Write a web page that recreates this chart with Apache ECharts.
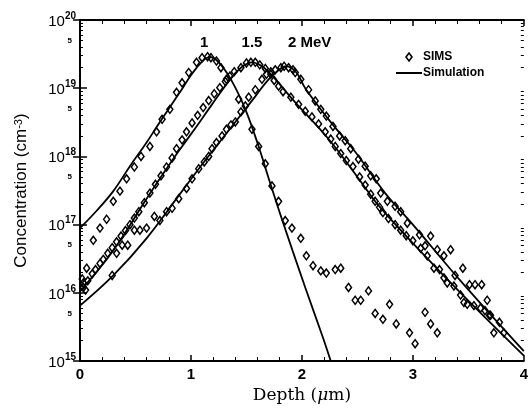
<!DOCTYPE html>
<html>
<head>
<meta charset="utf-8">
<script src="https://cdn.jsdelivr.net/npm/echarts@6/dist/echarts.min.js"></script>
<style>
  html, body { margin: 0; padding: 0; background: #fff; }
  #main { width: 531px; height: 409px; }
</style>
</head>
<body>
<div id="main"></div>
<script>
// depth (um) , concentration (cm^-3)
var sim1MeV = [[0, 8.9e16], [0.15, 1.6e17], [0.30, 3.1e17], [0.45, 7.2e17], [0.60, 1.6e18], [0.72, 3.2e18],
  [0.90, 8.7e18], [1.00, 1.55e19], [1.10, 2.45e19], [1.17, 2.85e19], [1.25, 2.4e19], [1.36, 1.35e19],
  [1.49, 4.9e18], [1.61, 1.4e18], [1.70, 4.8e17], [1.82, 1.2e17], [2.03, 1.2e16], [2.19, 2.2e15], [2.26, 1.0e15]];
var sim15MeV = [[0, 1.05e16], [0.30, 4.2e16], [0.60, 2.4e17], [0.78, 6.6e17], [0.89, 1.2e18], [1.05, 2.75e18],
  [1.19, 5.8e18], [1.34, 1.26e19], [1.45, 2.0e19], [1.55, 2.4e19], [1.62, 2.2e19], [1.70, 1.74e19],
  [1.94, 6.2e18], [2.24, 1.8e18], [2.53, 4.3e17], [2.68, 2.0e17], [3.10, 3.6e16], [3.43, 1.0e16], [4.0, 1.2e15]];
var sim2MeV = [[0, 6.5e15], [0.30, 1.8e16], [0.60, 6.3e16], [0.90, 2.8e17], [1.10, 7.6e17], [1.40, 3.2e18],
  [1.58, 7.6e18], [1.70, 1.35e19], [1.80, 1.9e19], [1.86, 2.1e19], [1.95, 1.7e19], [2.03, 1.0e19],
  [2.24, 3.5e18], [2.48, 1.17e18], [2.75, 2.9e17], [3.0, 1.0e17], [3.43, 1.5e16], [4.0, 1.4e15]];

var sims1MeV = [[0.03, 1.4e16], [0.06, 2.3e16], [0.12, 5.9e16], [0.18, 8.9e16], [0.24, 1.2e17], [0.30, 2.2e17],
  [0.36, 3.1e17], [0.42, 4.7e17], [0.49, 7.0e17], [0.55, 1.0e18], [0.63, 1.4e18], [0.69, 2.3e18], [0.74, 3.5e18],
  [0.81, 4.9e18], [0.87, 8.7e18], [0.92, 1.2e19], [0.98, 1.7e19], [1.05, 2.4e19], [1.10, 2.8e19], [1.15, 2.9e19],
  [1.18, 2.8e19], [1.23, 2.5e19], [1.27, 2.0e19], [1.32, 1.35e19], [1.43, 6.9e18], [1.55, 2.5e18], [1.61, 1.4e18],
  [1.67, 7.8e17], [1.73, 3.7e17], [1.79, 2.2e17], [1.85, 1.15e17], [1.91, 8.9e16], [1.99, 6.3e16], [2.04, 3.5e16],
  [2.10, 2.5e16], [2.17, 2.1e16], [2.22, 1.95e16], [2.30, 2.2e16], [2.35, 2.3e16], [2.42, 1.2e16], [2.48, 7.8e15],
  [2.53, 7.8e15], [2.60, 1.07e16], [2.66, 5.0e15], [2.73, 4.1e15], [2.79, 6.8e15], [2.85, 3.5e15], [2.97, 2.6e15],
  [3.02, 1.8e15], [3.11, 5.2e15], [3.16, 3.5e15], [3.22, 2.6e15]];
var sims15MeV = [[0.03, 1.2e16], [0.07, 1.5e16], [0.11, 1.9e16], [0.14, 2.2e16], [0.18, 2.7e16], [0.21, 3.1e16],
  [0.25, 3.8e16], [0.29, 4.6e16], [0.33, 5.6e16], [0.37, 6.8e16], [0.41, 8.2e16], [0.45, 1.0e17], [0.49, 1.25e17],
  [0.53, 1.55e17], [0.58, 2.1e17], [0.63, 2.9e17], [0.68, 3.9e17], [0.73, 5.2e17], [0.78, 7.0e17], [0.83, 9.5e17],
  [0.87, 1.3e18], [0.92, 1.75e18], [0.96, 2.3e18], [1.01, 3.1e18], [1.06, 4.0e18], [1.11, 5.2e18], [1.16, 6.6e18],
  [1.21, 8.3e18], [1.26, 1.02e19], [1.31, 1.25e19], [1.35, 1.5e19], [1.39, 1.75e19], [1.45, 2.0e19], [1.50, 2.35e19],
  [1.54, 2.4e19], [1.58, 2.4e19], [1.62, 2.2e19], [1.67, 1.95e19], [1.72, 1.6e19], [1.75, 1.3e19], [1.79, 1.07e19],
  [1.83, 8.9e18], [1.90, 7.4e18], [1.97, 5.8e18], [2.03, 4.6e18], [2.09, 3.8e18], [2.15, 3.0e18], [2.21, 2.3e18],
  [2.26, 1.8e18], [2.30, 1.4e18], [2.35, 1.1e18], [2.40, 8.7e17], [2.46, 7.1e17], [2.52, 5.0e17], [2.57, 3.8e17],
  [2.62, 2.8e17], [2.66, 2.2e17], [2.70, 1.8e17], [2.73, 1.5e17], [2.78, 1.23e17], [2.84, 1.0e17], [2.89, 8.3e16],
  [2.94, 6.9e16], [3.00, 5.8e16], [3.07, 4.5e16], [3.13, 3.5e16], [3.19, 2.3e16], [3.24, 2.2e16], [3.28, 1.66e16],
  [3.31, 1.4e16], [3.37, 1.26e16], [3.43, 9.3e15], [3.46, 7.2e15], [3.49, 6.8e15], [3.55, 6.5e15], [3.61, 6.0e15],
  [3.65, 5.5e15], [3.70, 4.7e15]];
var sims2MeV = [[0.02, 1.6e16], [0.05, 1.1e16], [0.29, 1.8e16], [0.33, 3.8e16], [0.38, 5.0e16], [0.43, 5.0e16],
  [0.49, 8.3e16], [0.54, 8.3e16], [0.60, 8.9e16], [0.67, 1.32e17], [0.72, 1.15e17], [0.78, 1.55e17], [0.83, 1.74e17],
  [0.89, 2.4e17], [0.96, 3.4e17], [1.01, 4.7e17], [1.07, 6.6e17], [1.12, 8.3e17], [1.16, 1.0e18], [1.19, 1.3e18],
  [1.23, 1.6e18], [1.28, 2.0e18], [1.32, 2.5e18], [1.36, 2.9e18], [1.40, 3.2e18], [1.45, 4.5e18], [1.49, 5.5e18],
  [1.52, 7.4e18], [1.58, 9.5e18], [1.64, 1.35e19], [1.68, 1.6e19], [1.72, 1.74e19], [1.76, 1.86e19], [1.81, 2.0e19],
  [1.84, 2.1e19], [1.88, 2.0e19], [1.92, 1.86e19], [1.94, 1.7e19], [1.99, 1.35e19], [2.06, 9.5e18], [2.12, 6.5e18],
  [2.17, 4.9e18], [2.22, 3.9e18], [2.28, 2.75e18], [2.34, 2.0e18], [2.39, 1.7e18], [2.44, 1.3e18], [2.51, 9.1e17],
  [2.57, 7.2e17], [2.62, 5.2e17], [2.67, 4.7e17], [2.71, 2.9e17], [2.77, 2.2e17], [2.84, 1.86e17], [2.89, 1.55e17],
  [2.95, 1.05e17], [3.06, 7.1e16], [3.11, 4.9e16], [3.16, 6.8e16], [3.22, 4.3e16], [3.28, 3.5e16], [3.34, 4.3e16],
  [3.38, 1.8e16], [3.45, 2.3e16], [3.51, 1.32e16], [3.56, 1.32e16], [3.62, 1.32e16], [3.67, 7.8e15], [3.69, 4.7e15],
  [3.73, 2.6e15], [3.78, 3.7e15], [3.82, 2.6e15]];

// energy annotations above the peaks
var energyLabels = ['1', '1.5', '2 MeV'];
var energyLabelAt = [[1.12, 4.6e19], [1.55, 4.6e19], [2.07, 4.6e19]];

// tick values
var yMajorTicks = [1e15, 1e16, 1e17, 1e18, 1e19, 1e20];
var yLabelTicks = [1e15, 5e15, 1e16, 5e16, 1e17, 5e17, 1e18, 5e18, 1e19, 5e19, 1e20];
var yMinorTicks = [];
yMajorTicks.slice(0, 5).forEach(function (d) {
  [2, 3, 4, 5, 6, 7, 8, 9].forEach(function (m) { yMinorTicks.push(m * d); });
});

var chart = echarts.init(document.getElementById('main'));

var sans = 'Liberation Sans';
var serif = 'DejaVu Serif';

function yFormat(v) {
  var e = Math.round(Math.log10(v));
  if (Math.abs(v / Math.pow(10, e) - 1) < 1e-6) {
    return '{b|10}{s|' + e + '}';
  }
  return '{m|5}';
}

var yRich = {
  b: { fontSize: 15, fontFamily: sans, color: '#000', lineHeight: 18, verticalAlign: 'bottom' },
  s: { fontSize: 10, fontFamily: sans, color: '#000', lineHeight: 10, verticalAlign: 'top', fontWeight: 'bold' },
  m: { fontSize: 8, fontFamily: sans, color: '#000', fontWeight: 'bold', padding: [0, 4, 0, 0] }
};

function yAxisBase(pos, major) {
  return {
    type: 'log',
    logBase: 10,
    position: pos,
    min: 1e15,
    max: 1e20,
    axisLine: { show: major, lineStyle: { color: '#000', width: 2 } },
    axisTick: {
      inside: true,
      length: major ? 7 : 3,
      customValues: major ? yMajorTicks : yMinorTicks,
      lineStyle: { color: '#000', width: major ? 1.5 : 1 }
    },
    axisLabel: { show: false },
    splitLine: { show: false }
  };
}

var yLeft = yAxisBase('left', true);
yLeft.axisLabel = {
  show: true,
  customValues: yLabelTicks,
  formatter: yFormat,
  rich: yRich,
  margin: 4
};
yLeft.name = 'Concentration (cm{sup|-3})';
yLeft.nameLocation = 'middle';
yLeft.nameGap = 50;
yLeft.nameTextStyle = {
  fontSize: 17, fontFamily: sans, color: '#000',
  rich: { sup: { fontSize: 11, fontFamily: sans, color: '#000', verticalAlign: 'top', lineHeight: 10 } }
};

function xAxisBase(pos, labels) {
  return {
    type: 'value',
    position: pos,
    min: 0,
    max: 4,
    interval: 1,
    axisLine: { show: true, onZero: false, lineStyle: { color: '#000', width: 2 } },
    axisTick: { inside: true, length: 6, lineStyle: { color: '#000', width: 1.5 } },
    minorTick: { show: true, splitNumber: 5, length: 4, lineStyle: { color: '#000', width: 1 } },
    axisLabel: { show: labels, fontSize: 15, fontFamily: sans, fontWeight: 'bold', color: '#000', margin: 6 },
    splitLine: { show: false }
  };
}

var xBottom = xAxisBase('bottom', true);
xBottom.name = 'Depth ({i|μ}m)';
xBottom.nameLocation = 'middle';
xBottom.nameGap = 24;
xBottom.nameTextStyle = {
  fontSize: 17, fontFamily: serif, color: '#000',
  rich: { i: { fontSize: 17, fontFamily: serif, fontStyle: 'italic', color: '#000' } }
};

var lineStyle = { color: '#000', width: 1.8 };
function simSeries(data) {
  return {
    name: 'Simulation', type: 'line', data: data, smooth: 0.4,
    showSymbol: false, symbol: 'none', lineStyle: lineStyle, itemStyle: { color: '#000' },
    xAxisIndex: 0, yAxisIndex: 0, z: 2
  };
}
function simsSeries(data) {
  return {
    name: 'SIMS', type: 'scatter', data: data, symbol: 'diamond', symbolSize: [6, 8],
    itemStyle: { color: 'rgba(255,255,255,0)', borderColor: '#000', borderWidth: 1.5, opacity: 1 },
    xAxisIndex: 0, yAxisIndex: 0, z: 3
  };
}

chart.setOption({
  animation: false,
  backgroundColor: '#fff',
  grid: { left: 80, right: 4, top: 20, bottom: 45, containLabel: false },
  legend: {
    data: [
      {
        name: 'SIMS',
        icon: 'path://M3,0 L6,4 L3,8 L0,4 Z',
        itemStyle: { color: 'rgba(255,255,255,0)', borderColor: '#000', borderWidth: 1.6, opacity: 1 }
      },
      {
        name: 'Simulation',
        icon: 'path://M0,0 L26,0 L26,2 L0,2 Z',
        itemStyle: { color: '#000', borderWidth: 0, opacity: 1 }
      }
    ],
    orient: 'vertical',
    left: 391,
    top: 46,
    itemGap: 4,
    itemWidth: 26,
    itemHeight: 8,
    selectedMode: false,
    textStyle: { fontSize: 12, fontWeight: 'bold', fontFamily: sans, color: '#000', padding: [0, 0, 0, -4] }
  },
  xAxis: [xBottom, xAxisBase('top', false)],
  yAxis: [yLeft, yAxisBase('right', true), yAxisBase('left', false), yAxisBase('right', false)],
  series: [
    simSeries(sim1MeV),
    simSeries(sim15MeV),
    simSeries(sim2MeV),
    simsSeries(sims1MeV),
    simsSeries(sims15MeV),
    simsSeries(sims2MeV),
    {
      name: 'energy', type: 'scatter', symbolSize: 1,
      itemStyle: { color: 'rgba(0,0,0,0)', opacity: 1 },
      data: energyLabelAt.map(function (p, i) { return { value: p, label: { formatter: energyLabels[i] } }; }),
      label: { show: true, position: 'inside', fontSize: 15, fontWeight: 'bold', fontFamily: sans, color: '#000', textBorderWidth: 0 },
      emphasis: { disabled: true },
      silent: true, z: 4
    }
  ]
});
</script>
</body>
</html>
